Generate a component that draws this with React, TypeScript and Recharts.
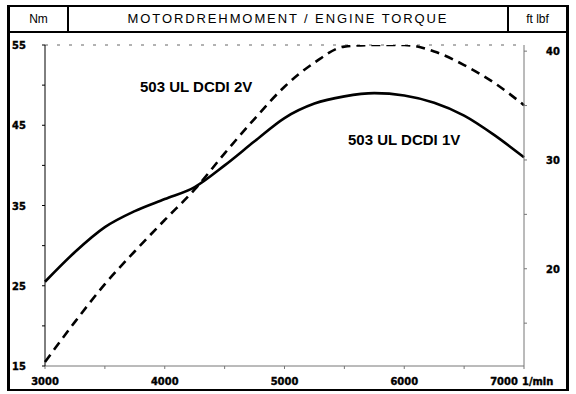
import React from 'react'
import { LineChart, Line, XAxis, YAxis, ReferenceLine } from 'recharts'

// engine speed, 1/min
const rpm = [3000, 3250, 3500, 3750, 4000, 4250, 4500, 4750, 5000, 5250, 5500, 5750, 6000, 6250, 6500, 6750, 7000]
// torque in Nm
const torque1V = [25.5, 29.2, 32.3, 34.3, 35.8, 37.3, 40.0, 43.0, 45.9, 47.7, 48.6, 49.0, 48.7, 47.8, 46.2, 43.8, 41.0]
const torque2V = [15.5, 20.5, 25.2, 29.3, 33.2, 37.0, 41.5, 45.8, 49.8, 52.8, 54.8, 55.0, 55.0, 54.2, 52.5, 50.3, 47.5]

const rpmTicks = [3000, 3500, 4000, 4500, 5000, 5500, 6000, 6500, 7000]
const rpmLabels = [3000, 4000, 5000, 6000, 7000]
const nmTicks = [15, 20, 25, 30, 35, 40, 45, 50, 55]
const nmLabels = [15, 25, 35, 45, 55]
const ftTicks = [15, 20, 25, 30, 35, 40]
const ftLabels = [20, 30, 40]

const NM_TO_FTLB = 0.73756
const nmDomain = [15, 55]
const ftDomain = [nmDomain[0] * NM_TO_FTLB, nmDomain[1] * NM_TO_FTLB]

const data = rpm.map((r, i) => ({ rpm: r, v1: torque1V[i], v2: torque2V[i] }))

const tickFont = "'DejaVu Sans Condensed', 'Liberation Sans Narrow', sans-serif"
const tickStyle = { fontFamily: tickFont, fontSize: 11, fontWeight: 700, fill: '#000', stroke: '#000', strokeWidth: 0.4 }

function RpmTick({ x, payload }: any) {
  const v = payload.value
  if (!rpmLabels.includes(v)) return <g />
  if (v === 7000) {
    return (
      <g style={tickStyle}>
        <text x={x - 20} y={385} textAnchor="middle">7000</text>
        <text x={x - 2} y={385} textAnchor="start">1/min</text>
      </g>
    )
  }
  return (
    <text x={x} y={385} textAnchor="middle" style={tickStyle}>{v}</text>
  )
}

function NmTick({ y, payload }: any) {
  if (!nmLabels.includes(payload.value)) return <g />
  return (
    <text x={12} y={y + 4} style={tickStyle}>{payload.value}</text>
  )
}

function FtTick({ y, payload }: any) {
  if (!ftLabels.includes(payload.value)) return <g />
  return (
    <text x={553} y={y + 4} textAnchor="middle" style={tickStyle}>{payload.value}</text>
  )
}

const box = (s: React.CSSProperties): React.CSSProperties => ({ position: 'absolute', background: '#000', ...s })

export default function App() {
  return (
    <div style={{ position: 'fixed', left: 0, top: 0, width: 576, height: 394, background: '#fff', fontFamily: "'Liberation Sans', Arial, sans-serif" }}>
      <LineChart width={576} height={394} data={data} margin={{ top: 45, right: 10, bottom: 0, left: 0 }}>
        <XAxis
          dataKey="rpm" type="number" domain={[3000, 7000]} ticks={rpmTicks}
          height={28} tickSize={3} tick={<RpmTick />}
          axisLine={{ stroke: '#777' }} tickLine={{ stroke: '#777' }}
        />
        <YAxis
          yAxisId="nm" type="number" domain={nmDomain} ticks={nmTicks} width={45}
          tickSize={3} tick={<NmTick />} allowDataOverflow
          axisLine={{ stroke: '#000' }} tickLine={{ stroke: '#000' }}
        />
        <YAxis
          yAxisId="ft" orientation="right" type="number" domain={ftDomain} ticks={ftTicks} width={42}
          tickSize={3} tick={<FtTick />} allowDataOverflow
          axisLine={{ stroke: '#777' }} tickLine={{ stroke: '#777' }}
        />
        <ReferenceLine yAxisId="nm" y={55} stroke="#666" strokeDasharray="3 9" />
        <Line yAxisId="nm" type="monotone" dataKey="v1" stroke="#000" strokeWidth={2.6} dot={false} isAnimationActive={false} />
        <Line yAxisId="nm" type="monotone" dataKey="v2" stroke="#000" strokeWidth={2.6} strokeDasharray="9 6" dot={false} isAnimationActive={false} />
      </LineChart>

      {/* frame and header */}
      <div style={box({ left: 7, top: 5, width: 3, height: 386 })} />
      <div style={box({ left: 566, top: 5, width: 3, height: 386 })} />
      <div style={box({ left: 7, top: 5, width: 562, height: 2 })} />
      <div style={box({ left: 7, top: 31, width: 562, height: 2 })} />
      <div style={box({ left: 7, top: 389, width: 562, height: 2 })} />
      <div style={box({ left: 67, top: 5, width: 2, height: 28 })} />
      <div style={box({ left: 507, top: 5, width: 2, height: 28 })} />

      <div style={{ position: 'absolute', left: 10, width: 57, top: 7, height: 24, lineHeight: '24px', textAlign: 'center', fontSize: 12 }}>Nm</div>
      <div style={{ position: 'absolute', left: 69, width: 438, top: 7, height: 24, lineHeight: '24px', textAlign: 'center', fontSize: 13, letterSpacing: 1.9 }}>
        MOTORDREHMOMENT / ENGINE TORQUE
      </div>
      <div style={{ position: 'absolute', left: 509, width: 57, top: 7, height: 24, lineHeight: '24px', textAlign: 'center', fontSize: 12 }}>ft lbf</div>

      <div style={{ position: 'absolute', left: 140, top: 78, fontSize: 15, fontWeight: 700, whiteSpace: 'nowrap' }}>503 UL DCDI 2V</div>
      <div style={{ position: 'absolute', left: 348, top: 131, fontSize: 15, fontWeight: 700, whiteSpace: 'nowrap' }}>503 UL DCDI 1V</div>
    </div>
  )
}
